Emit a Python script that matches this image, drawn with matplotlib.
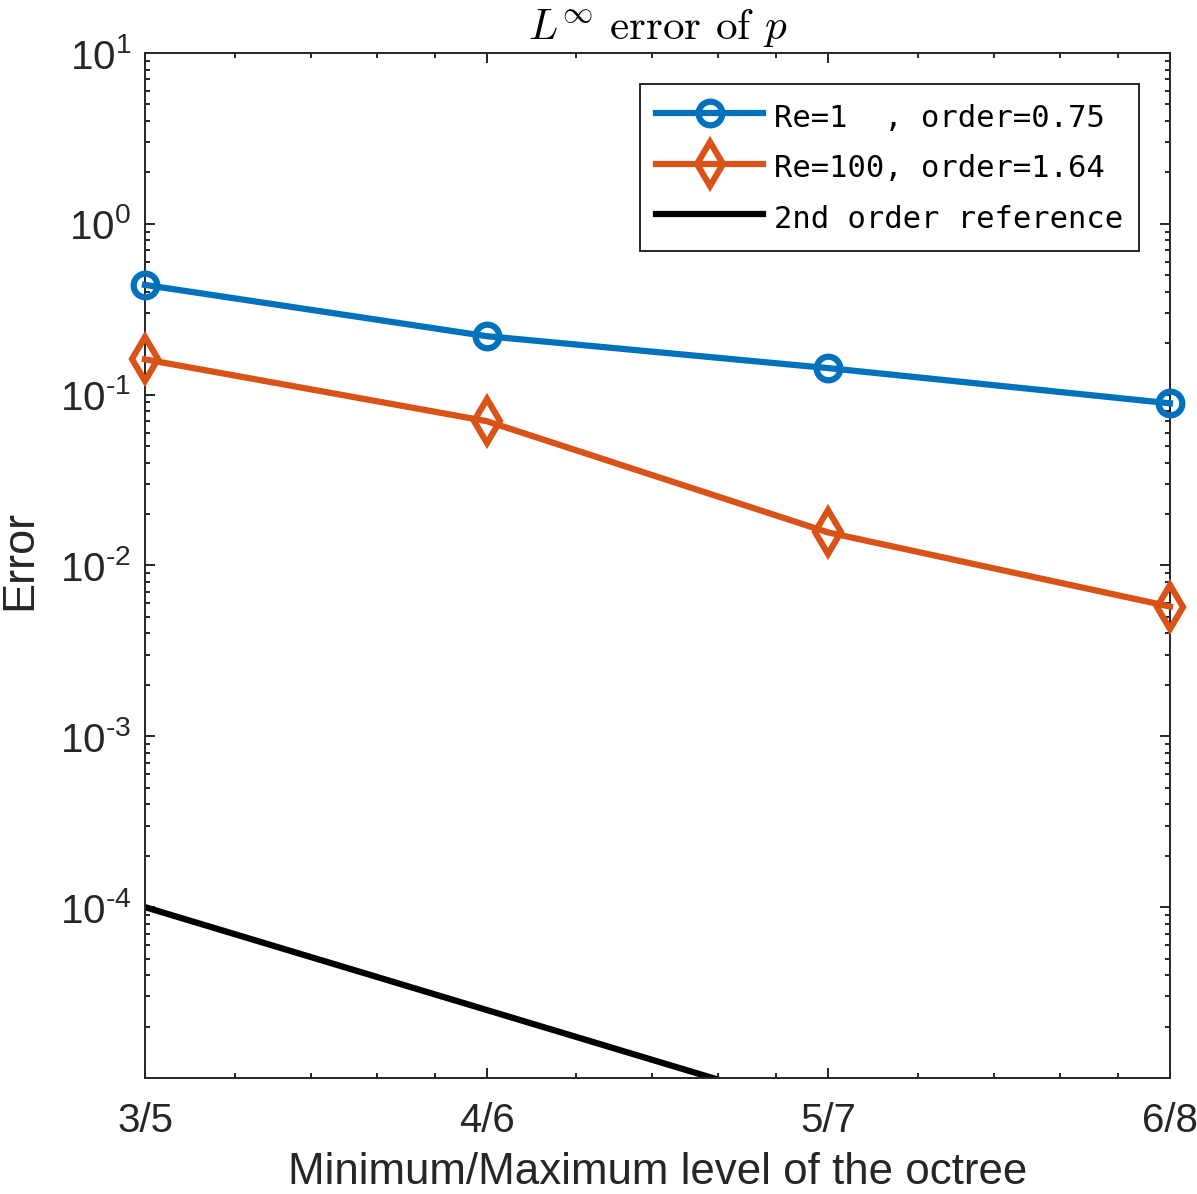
import numpy as np
import matplotlib
matplotlib.use('Agg')
import matplotlib.pyplot as plt
from matplotlib.ticker import LogLocator, FixedLocator, NullFormatter, FuncFormatter

min_level = [3, 4, 5, 6]
max_level = [5, 6, 7, 8]
err_re1 = [0.439, 0.220, 0.143, 0.089]
err_re100 = [0.161, 0.070, 0.0156, 0.00575]
err_ref = [1e-4, 2.5e-5, 6.25e-6, 1.5625e-6]
labels = ['Re=1  , order=0.75', 'Re=100, order=1.64', '2nd order reference']
xticklabels = ['%d/%d' % (a, b) for a, b in zip(min_level, max_level)]
ydecades = [-4, -3, -2, -1, 0, 1]

plt.rcParams['font.family'] = 'Liberation Sans'
plt.rcParams['mathtext.fontset'] = 'custom'
plt.rcParams['mathtext.rm'] = 'Liberation Sans'
plt.rcParams['mathtext.it'] = 'Liberation Sans:italic'
plt.rcParams['mathtext.bf'] = 'Liberation Sans:bold'

dark = '#262626'
blue = '#0072BD'
orange = '#D95319'

x = [2.0 ** m for m in min_level]

fig = plt.figure(figsize=(11.97, 11.94), dpi=100)
ax = fig.add_axes([0.1211, 0.0972, 0.8563, 0.8584])

ax.plot(x, err_re1, '-o', color=blue, lw=4.5, ms=17, mew=4.5, mfc='none',
        label=labels[0], clip_on=False, zorder=3)
ax.plot(x, err_re100, '-d', color=orange, lw=4.5, ms=22, mew=4.5, mfc='none',
        label=labels[1], clip_on=False, zorder=3)
ax.plot(x, err_ref, '-', color='k', lw=4.5, label=labels[2])

ax.set_xscale('log', base=2)
ax.set_yscale('log')
ax.set_xlim(x[0], x[-1])
ax.set_ylim(1e-5, 10)

ax.xaxis.set_major_locator(FixedLocator(x))
ax.set_xticklabels(xticklabels)
minor_x = [x0 * f for x0 in x[:-1] for f in (1.2, 1.4, 1.6, 1.8)]
ax.xaxis.set_minor_locator(FixedLocator(minor_x))
ax.xaxis.set_minor_formatter(NullFormatter())


def ylab(v, pos):
    e = int(round(np.log10(v)))
    return r'$\mathregular{10}^{\text{%d}}$' % e


ax.yaxis.set_major_locator(FixedLocator([10.0 ** d for d in ydecades]))
ax.yaxis.set_major_formatter(FuncFormatter(ylab))
ax.yaxis.set_minor_locator(LogLocator(base=10, subs=np.arange(2, 10), numticks=100))
ax.yaxis.set_minor_formatter(NullFormatter())

for s in ax.spines.values():
    s.set_color(dark)
    s.set_linewidth(1.4)
ax.tick_params(which='both', direction='in', top=True, right=True, colors=dark,
               labelsize=29, width=1.4)
ax.tick_params(which='major', length=7.5)
ax.tick_params(which='minor', length=3.8)
ax.tick_params(axis='x', pad=17)
ax.tick_params(axis='y', pad=10)

ax.set_xlabel('Minimum/Maximum level of the octree', fontsize=31.6, color=dark, labelpad=9)
ax.set_ylabel('Error', fontsize=32.5, color=dark)
ax.yaxis.set_label_coords(-0.102, 0.505)
ax.set_title(r'$L^\infty$ error of $p$', fontsize=31, color='k', pad=10,
             math_fontfamily='cm')
ax.title.set_fontfamily('cmr10')

leg = ax.legend(loc='upper right', prop={'family': 'DejaVu Sans Mono', 'size': 22},
                fancybox=False, edgecolor=dark, framealpha=1, handlelength=3.5,
                handleheight=1.31, handletextpad=0.35, borderpad=0.53,
                labelspacing=0.56, borderaxespad=1.0)
leg.get_frame().set_linewidth(1.4)
for t in leg.get_texts():
    t.set_color('k')

fig.savefig('out.png', dpi=100, facecolor='white')
